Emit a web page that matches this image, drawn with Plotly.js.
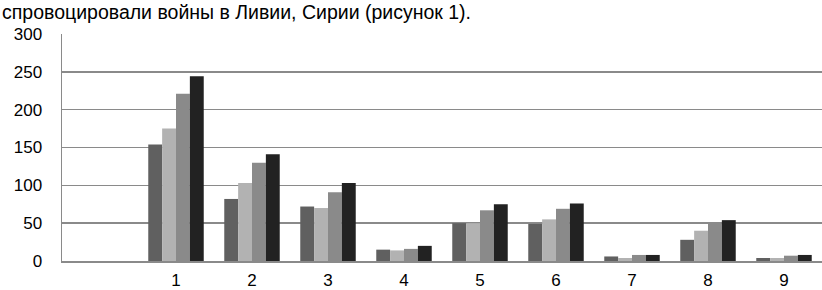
<!DOCTYPE html>
<html><head><meta charset="utf-8">
<script src="https://cdn.plot.ly/plotly-3.0.1.min.js"></script>
<style>html,body{margin:0;padding:0;background:#fff}#c{width:822px;height:290px}</style>
</head><body><div id="c"></div>
<script>
var categories = [1, 2, 3, 4, 5, 6, 7, 8, 9];
var tickLabels = ['1', '2', '3', '4', '5', '6', '7', '8', '9'];
var series1 = [154, 82, 72, 15, 50, 49, 6, 28, 4];
var series2 = [175, 103, 70, 14, 50, 55, 4, 40, 4];
var series3 = [221, 130, 91, 16, 67, 69, 8, 50, 7];
var series4 = [244, 141, 103, 20, 75, 76, 8, 54, 8];
var caption = 'спровоцировали войны в Ливии, Сирии (рисунок 1).';

var colors = ['#606060', '#b2b2b2', '#8a8a8a', '#222222'];
var all = [series1, series2, series3, series4];
var traces = all.map(function (s, i) {
  return {type: 'bar', x: categories, y: s, marker: {color: colors[i], line: {width: 0}},
          hoverinfo: 'skip'};
});

var layout = {
  width: 822, height: 290,
  margin: {l: 62, r: 0, t: 34, b: 29},
  paper_bgcolor: '#fff', plot_bgcolor: '#fff',
  showlegend: false,
  barmode: 'group', bargap: 0.27, bargroupgap: 0,
  font: {family: 'Liberation Sans, Arial, sans-serif', size: 17, color: '#000'},
  xaxis: {range: [-0.5, 9.5], tickvals: categories, ticktext: tickLabels,
          showgrid: false, zeroline: false, showline: true, linecolor: '#8a8a8a', linewidth: 1.5,
          ticks: '', ticklabelstandoff: 3, fixedrange: true},
  yaxis: {range: [0, 300], dtick: 50, showgrid: true, gridcolor: '#8a8a8a', gridwidth: 1.5,
          zeroline: false, showline: true, linecolor: '#8a8a8a', linewidth: 1.5,
          ticks: '', ticklabelstandoff: 15, fixedrange: true},
  annotations: [{text: caption, xref: 'paper', yref: 'paper', x: -62/760, y: (261-11.5)/227,
                 xanchor: 'left', yanchor: 'middle', showarrow: false,
                 font: {family: 'Liberation Sans, Arial, sans-serif', size: 19.5, color: '#000'}}]
};
Plotly.newPlot('c', traces, layout, {displayModeBar: false, staticPlot: true});
</script></body></html>
